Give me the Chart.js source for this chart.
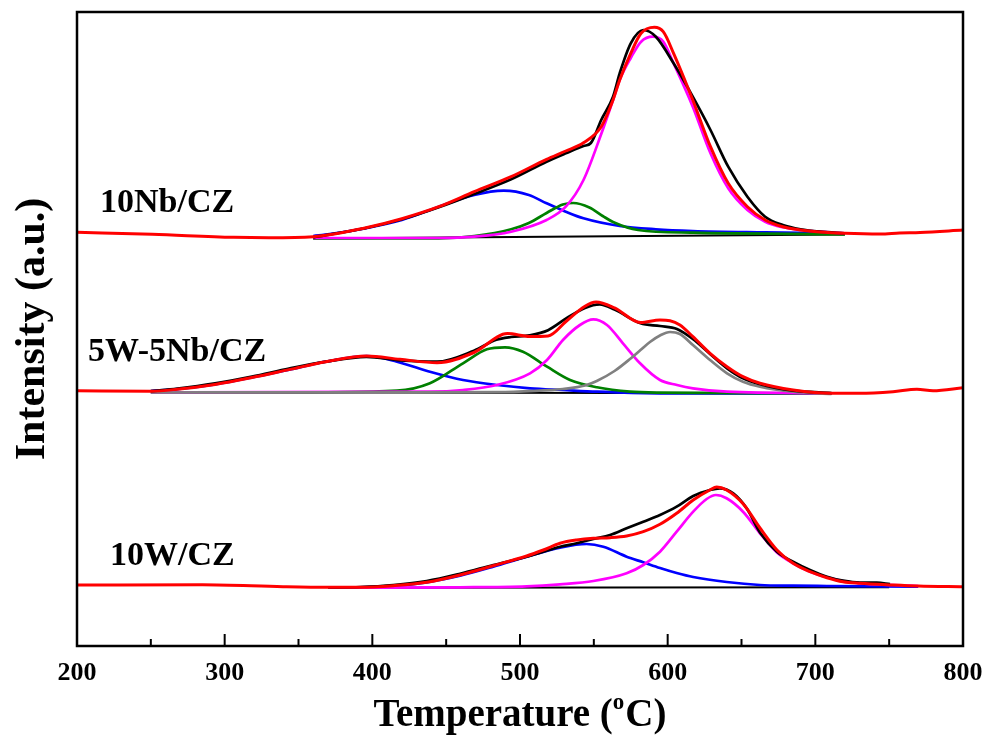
<!DOCTYPE html>
<html>
<head>
<meta charset="utf-8">
<script src="https://cdn.jsdelivr.net/npm/chart.js@4.4.1/dist/chart.umd.min.js"></script>
<style>
  body { margin: 0; background: #fff; }
  #wrap { width: 989px; height: 740px; }
</style>
</head>
<body>
<div id="wrap"><canvas id="tpr" width="989" height="740"></canvas></div>
<script>
// x ticks
const tempTicks = [200, 300, 400, 500, 600, 700, 800];

// 10Nb/CZ  (intensity above its own baseline)
const nbRedT = [200, 251, 306, 330, 360, 395, 420, 445, 469, 494, 518, 531, 543, 555, 563, 567.5, 575, 582, 591, 597, 604, 617, 629, 641, 654, 666, 678, 690, 703, 720, 744, 757, 771, 800];
const nbRed = [5.7, 3.7, 0.7, 0.3, 1.3, 10, 19.3, 31.3, 46.3, 61.3, 78.7, 87, 95.3, 111.3, 138, 158, 184.7, 204.7, 210.7, 206.3, 184.7, 138, 91.3, 54.7, 31.3, 18, 11.3, 8, 6, 4.7, 4, 5, 5.5, 8];
const nbBlackT = [360, 395, 420, 445, 469, 494, 518, 531, 543, 548, 555, 563, 567.5, 575, 583.5, 592, 604, 617, 629, 641, 654, 666, 678, 690, 703, 720];
const nbBlack = [0.7, 9.7, 18.7, 30.7, 44, 58.7, 76.3, 84.7, 92, 95, 118, 141.3, 164.7, 194.7, 208, 201.3, 174.7, 141.3, 108, 71.3, 41.3, 21.3, 13, 8.7, 6.3, 4.7];
const nbBlueT = [360, 371, 395, 420, 445, 469, 489, 506, 518, 531, 543, 567.5, 592, 617, 666, 720];
const nbBlue = [2, 4, 9.7, 18, 31.3, 43, 47.3, 43, 34.7, 26.3, 19.7, 12, 8.7, 7, 5.7, 4.7];
const nbGreenT = [360, 445, 469, 494, 506, 518, 529, 536, 547, 556, 563, 580, 617, 720];
const nbGreen = [-0.5, -0.3, 2, 8.7, 15, 25, 33.5, 35, 30.5, 22, 16, 8, 5.3, 3.7];
const nbMagT = [360, 445, 469, 494, 518, 531, 543, 555, 563, 567.5, 575, 582, 590, 597, 604, 617, 629, 641, 654, 666, 678, 690, 703, 720];
const nbMag = [0, 0, 1.3, 6.3, 18, 31.3, 58, 104, 138, 158, 180, 196.3, 201.3, 196.3, 174.7, 131.3, 84.7, 49.7, 28, 16.3, 10.7, 8, 6.3, 4.7];
const nbBaseT = [360, 720];
const nbBase = [-0.5, 3.5];

// 5W-5Nb/CZ
const wnbRedT = [200, 250, 268, 293.5, 318.5, 343.6, 368.6, 396, 418.7, 443.8, 468.8, 491.5, 506.4, 519, 531.5, 544, 551.5, 564, 581.6, 594.8, 601.6, 608.3, 617.1, 628.7, 640.2, 651, 662.5, 685, 711, 730, 752.6, 768.8, 779.7, 800];
const wnbRed = [1.3, 0.8, 2.8, 7.6, 14.5, 22.4, 30.3, 36.1, 32.7, 29.3, 39.5, 58.4, 55.5, 56, 71, 85.8, 90, 84.1, 69.5, 72, 71.3, 67, 55.3, 38.7, 25.3, 15.3, 8.7, 2, -1.3, -1.3, 0.3, 2.7, 1.3, 4.3];
const wnbBlackT = [250, 268, 293.5, 318.5, 343.6, 368.6, 396, 418.7, 443.8, 468.8, 484, 494, 506.4, 519, 531.5, 544, 554, 564, 581.6, 594.8, 606.3, 617, 628.7, 640.2, 651, 662.5, 685, 711];
const wnbBlack = [0.8, 3.5, 8.7, 15.5, 23.4, 30.3, 35.1, 31.7, 30.3, 41.3, 52.2, 55, 56.7, 61.8, 73.8, 84.1, 87.6, 82.4, 68.7, 66, 63, 53, 38, 23.7, 13.7, 7.7, 1.3, -1];
const wnbBlueT = [250, 268, 293.5, 318.5, 343.6, 368.6, 396.2, 416.7, 439, 461.4, 484.4, 506.8, 529.1, 552.1, 594.8, 711];
const wnbBlue = [1, 2.8, 7.6, 14.5, 22.4, 30.3, 36, 30.3, 20.3, 12, 7, 3.7, 2, 0.3, -1.3, -1.5];
const wnbGreenT = [250, 330, 416.7, 439, 461.4, 477.6, 489.8, 502, 518.3, 533.9, 552.1, 574.5, 594.8, 711];
const wnbGreen = [-0.5, -0.7, 1.3, 8.7, 28.7, 42.7, 44.7, 40.3, 25.3, 12, 4.7, 0.3, -0.7, -1.5];
const wnbMagT = [250, 439, 461.4, 484.4, 506.8, 518.3, 529.1, 540.6, 549.6, 558.9, 569.7, 581.3, 594.8, 606.3, 617.1, 640.2, 711];
const wnbMag = [-0.5, 0.3, 2, 7, 18.7, 32, 52, 67, 72.7, 67, 48.7, 28.7, 12, 7, 3.7, 0.3, -1.3];
const wnbGrayT = [250, 400, 490, 519, 529, 544, 552, 564, 574.5, 581.6, 588, 594.8, 601.6, 608.3, 617.1, 628.7, 640.2, 651, 662.5, 685, 711];
const wnbGray = [-0.5, -0.3, 0, 1.8, 3, 6.5, 11, 21, 33, 42, 50, 56.5, 60, 58, 47, 32, 18.7, 10.3, 5.3, 0.3, -2];
const wnbBaseT = [250, 711];
const wnbBase = [0, -1.5];

// 10W/CZ
const wRedT = [200, 285, 339.5, 370, 391.6, 414.2, 436.8, 459.4, 481.9, 504.5, 515.8, 527.1, 538.4, 549.7, 561, 572.2, 583.5, 594.8, 606.1, 617.3, 628.6, 633.2, 639.9, 651.2, 662.5, 674, 684.9, 696.4, 707.9, 718.7, 730.2, 752.6, 769.7, 800];
const wRed = [3, 3.3, 1.3, 0.7, 0.7, 2.3, 5.7, 13, 22.3, 32, 38, 44.7, 48, 49.7, 50.3, 52, 56.3, 63.7, 74.7, 88, 98, 101, 98, 84, 60, 38, 24.7, 16.3, 10.3, 6.3, 4.7, 3, 2, 1.3];
const wBlackT = [370, 391.6, 414.2, 436.8, 459.4, 481.9, 504.5, 515.8, 527.1, 538.4, 549.7, 561, 572.2, 583.5, 594.8, 606.1, 617.3, 628.6, 635.4, 644.4, 653.5, 662.5, 674, 684.9, 696.4, 707.9, 718.7, 730.2, 741.7, 750.6];
const wBlack = [0.5, 1, 3, 7, 14.3, 23, 31.3, 36.3, 41.3, 44.7, 49, 53, 59.7, 66.3, 73, 81.3, 92, 98, 99.7, 94.7, 79.7, 55.5, 36.3, 26.3, 18, 11.3, 7.3, 5.3, 5.3, 4];
const wBlueT = [370, 391.6, 414.2, 436.8, 459.4, 481.9, 504.5, 527.1, 545.1, 556.4, 572.2, 583.5, 594.8, 606.1, 617.3, 640, 662.5, 684.9, 707.9, 769.7];
const wBlue = [0.5, 0.7, 2, 5.7, 12.3, 21.3, 31.3, 40.3, 44, 41.3, 31.3, 25.7, 20, 15, 11, 6, 3, 2.3, 2, 1.3];
const wMagT = [370, 459.4, 504.5, 527.1, 549.7, 572.2, 583.5, 594.8, 606.1, 617.3, 626.4, 632.7, 639.9, 651.2, 662.5, 674, 684.9, 696.4, 707.9, 718.7, 730.2, 752.6, 769.7];
const wMag = [0.3, 0.7, 1.7, 3.7, 7, 14.7, 23, 36.3, 56.3, 76.3, 89, 93, 89.7, 76, 54.7, 35.5, 24.7, 16.3, 10.7, 7, 4.7, 3, 2];
const wBaseT = [370, 750];
const wBase = [0.3, 0.7];

// vertical offsets of the stacked profiles
const nbOffset = 408;
const wnbOffset = 254;
const wOffset = 58;

const FONT = "'Liberation Serif', 'Times New Roman', serif";

function pts(ts, vs, off) {
    return ts.map((t, i) => ({ x: t, y: vs[i] + off }));
}

function line(ts, vs, off, color, order, width) {
    return {
        data: pts(ts, vs, off),
        borderColor: color,
        borderWidth: width || 2.7,
        pointRadius: 0,
        fill: false,
        cubicInterpolationMode: 'monotone',
        order: order
    };
}

const datasets = [
    line(nbRedT, nbRed, nbOffset, '#ff0000', 0, 3),
    line(nbBlackT, nbBlack, nbOffset, '#000000', 1),
    line(nbMagT, nbMag, nbOffset, '#ff00ff', 2),
    line(nbGreenT, nbGreen, nbOffset, '#008000', 3),
    line(nbBlueT, nbBlue, nbOffset, '#0000ff', 3),
    line(nbBaseT, nbBase, nbOffset, '#000000', 4, 2),

    line(wnbRedT, wnbRed, wnbOffset, '#ff0000', 0, 3),
    line(wnbBlackT, wnbBlack, wnbOffset, '#000000', 1),
    line(wnbGrayT, wnbGray, wnbOffset, '#808080', 2),
    line(wnbMagT, wnbMag, wnbOffset, '#ff00ff', 2),
    line(wnbGreenT, wnbGreen, wnbOffset, '#008000', 3),
    line(wnbBlueT, wnbBlue, wnbOffset, '#0000ff', 3),
    line(wnbBaseT, wnbBase, wnbOffset, '#000000', 4, 2),

    line(wRedT, wRed, wOffset, '#ff0000', 0, 3),
    line(wBlackT, wBlack, wOffset, '#000000', 1),
    line(wMagT, wMag, wOffset, '#ff00ff', 2),
    line(wBlueT, wBlue, wOffset, '#0000ff', 3),
    line(wBaseT, wBase, wOffset, '#000000', 4, 2)
];

const decor = {
    id: 'decor',
    afterDraw(chart) {
        const ctx = chart.ctx;
        const a = chart.chartArea;
        const xs = chart.scales.x;
        ctx.save();
        ctx.strokeStyle = '#000';
        ctx.lineWidth = 2.5;
        ctx.strokeRect(a.left, a.top, a.right - a.left, a.bottom - a.top);

        // inward ticks on the bottom axis
        ctx.lineWidth = 2;
        for (let v = 200; v <= 800; v += 50) {
            const x = xs.getPixelForValue(v);
            const len = v % 100 === 0 ? 12 : 7;
            ctx.beginPath();
            ctx.moveTo(x, a.bottom);
            ctx.lineTo(x, a.bottom - len);
            ctx.stroke();
        }

        ctx.fillStyle = '#000';
        ctx.textBaseline = 'alphabetic';

        // x title with superscript o
        const big = 'bold 39px ' + FONT;
        const small = 'bold 23px ' + FONT;
        const p1 = 'Temperature (', p2 = 'o', p3 = 'C)';
        ctx.font = big;
        const w1 = ctx.measureText(p1).width, w3 = ctx.measureText(p3).width;
        ctx.font = small;
        const w2 = ctx.measureText(p2).width + 1;
        let x0 = (a.left + a.right) / 2 - (w1 + w2 + w3) / 2;
        const yb = 726;
        ctx.font = big;
        ctx.fillText(p1, x0, yb);
        ctx.font = small;
        ctx.fillText(p2, x0 + w1, yb - 17);
        ctx.font = big;
        ctx.fillText(p3, x0 + w1 + w2, yb);

        // y title
        ctx.save();
        ctx.translate(44, (a.top + a.bottom) / 2);
        ctx.rotate(-Math.PI / 2);
        ctx.textAlign = 'center';
        ctx.font = 'bold 42px ' + FONT;
        ctx.fillText('Intensity (a.u.)', 0, 0);
        ctx.restore();

        // sample labels
        ctx.font = 'bold 34px ' + FONT;
        ctx.textAlign = 'left';
        ctx.fillText('10Nb/CZ', 100, 212);
        ctx.fillText('5W-5Nb/CZ', 88, 361);
        ctx.fillText('10W/CZ', 110, 565);
        ctx.restore();
    }
};

new Chart(document.getElementById('tpr'), {
    type: 'line',
    data: { datasets: datasets },
    options: {
        responsive: false,
        animation: false,
        layout: { padding: { left: 77, right: 26, top: 12, bottom: 0 } },
        plugins: { legend: { display: false }, tooltip: { enabled: false } },
        scales: {
            x: {
                type: 'linear',
                min: 200,
                max: 800,
                afterFit(scale) {
                    scale.height = 94;
                    scale.paddingLeft = 0;
                    scale.paddingRight = 0;
                },
                afterBuildTicks(scale) { scale.ticks = tempTicks.map(v => ({ value: v })); },
                grid: { display: false, drawTicks: false },
                border: { display: false },
                ticks: {
                    color: '#000',
                    padding: 12,
                    maxRotation: 0,
                    font: { family: FONT, size: 26, weight: 'bold' }
                }
            },
            y: {
                display: false,
                min: 0,
                max: 634
            }
        }
    },
    plugins: [decor]
});
</script>
</body>
</html>
